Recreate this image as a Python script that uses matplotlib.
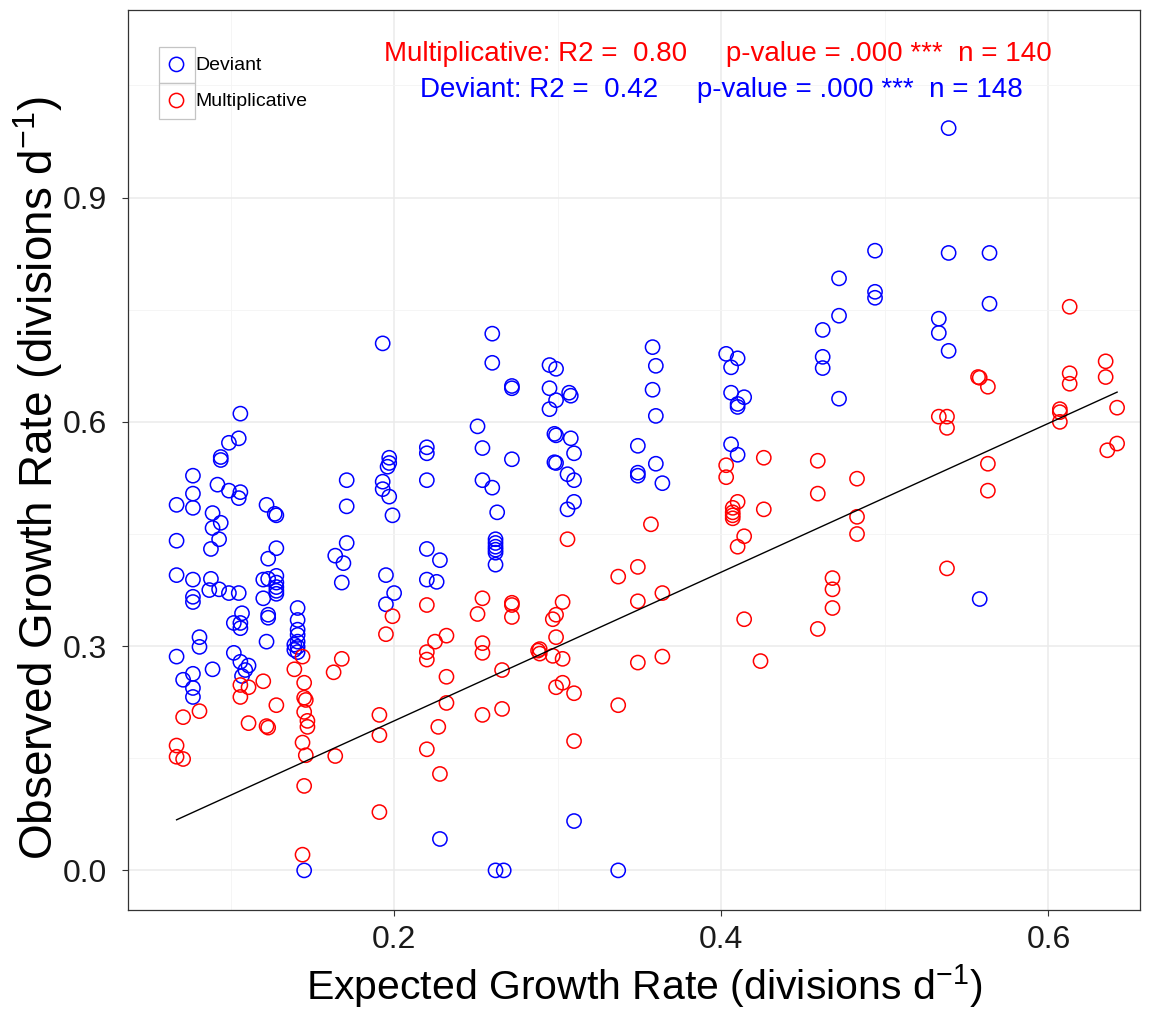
import matplotlib
matplotlib.use("Agg")
import matplotlib.pyplot as plt
from matplotlib.patches import Rectangle
from matplotlib.ticker import FixedLocator
import numpy as np

plt.rcParams["font.family"] = ["Liberation Sans", "DejaVu Sans"]
plt.rcParams["mathtext.fontset"] = "custom"
plt.rcParams["mathtext.rm"] = "Liberation Sans"
plt.rcParams["mathtext.it"] = "Liberation Sans:italic"

# (expected, observed) growth rates, divisions per day
DEVIANT = [
    (0.106, 0.611), (0.105, 0.578), (0.099, 0.572), (0.094, 0.553), (0.094, 0.549),
    (0.077, 0.528), (0.092, 0.516), (0.099, 0.508), (0.106, 0.506), (0.105, 0.498),
    (0.077, 0.504), (0.067, 0.489), (0.077, 0.485), (0.122, 0.489), (0.128, 0.475),
    (0.127, 0.477), (0.089, 0.478), (0.094, 0.465), (0.089, 0.458), (0.093, 0.443),
    (0.088, 0.430), (0.067, 0.441), (0.128, 0.431), (0.123, 0.417), (0.067, 0.395),
    (0.077, 0.389), (0.088, 0.390), (0.087, 0.375), (0.093, 0.376), (0.099, 0.371),
    (0.105, 0.371), (0.077, 0.366), (0.077, 0.359), (0.120, 0.389), (0.123, 0.390),
    (0.128, 0.394), (0.128, 0.385), (0.128, 0.379), (0.128, 0.374), (0.128, 0.370),
    (0.120, 0.364), (0.107, 0.344), (0.102, 0.331), (0.106, 0.331), (0.106, 0.324),
    (0.123, 0.342), (0.123, 0.338), (0.141, 0.351), (0.141, 0.335), (0.141, 0.322),
    (0.141, 0.315), (0.141, 0.306), (0.139, 0.302), (0.141, 0.299), (0.139, 0.295),
    (0.141, 0.292), (0.081, 0.312), (0.081, 0.299), (0.067, 0.286), (0.122, 0.306),
    (0.102, 0.291), (0.106, 0.279), (0.111, 0.274), (0.109, 0.268), (0.089, 0.269),
    (0.077, 0.263), (0.071, 0.255), (0.077, 0.244), (0.077, 0.232), (0.107, 0.260),
    (0.145, 0.000),
    (0.168, 0.385), (0.200, 0.371), (0.195, 0.356), (0.228, 0.042), (0.193, 0.705),
    (0.220, 0.566), (0.220, 0.558), (0.220, 0.522), (0.197, 0.552), (0.197, 0.545),
    (0.196, 0.540), (0.193, 0.520), (0.193, 0.510), (0.197, 0.500), (0.199, 0.475),
    (0.171, 0.522), (0.171, 0.487), (0.171, 0.438), (0.164, 0.421), (0.169, 0.411),
    (0.195, 0.395), (0.220, 0.430), (0.220, 0.389), (0.228, 0.415), (0.226, 0.386),
    (0.260, 0.718), (0.260, 0.679), (0.272, 0.648), (0.272, 0.645), (0.295, 0.676),
    (0.299, 0.671), (0.295, 0.645), (0.307, 0.639), (0.308, 0.635), (0.299, 0.629),
    (0.295, 0.617), (0.251, 0.594), (0.298, 0.584), (0.299, 0.582), (0.308, 0.578),
    (0.254, 0.565), (0.310, 0.558), (0.272, 0.550), (0.298, 0.546), (0.299, 0.545),
    (0.306, 0.530), (0.310, 0.522), (0.254, 0.522), (0.260, 0.512), (0.310, 0.493),
    (0.306, 0.483), (0.263, 0.479), (0.262, 0.443), (0.262, 0.438), (0.262, 0.433),
    (0.262, 0.429), (0.262, 0.425), (0.262, 0.409), (0.349, 0.568), (0.349, 0.532),
    (0.349, 0.528), (0.310, 0.066), (0.262, 0.000), (0.267, 0.000), (0.337, 0.000),
    (0.358, 0.700), (0.360, 0.675), (0.358, 0.643), (0.360, 0.608), (0.360, 0.544),
    (0.364, 0.518), (0.403, 0.691), (0.410, 0.685), (0.406, 0.673), (0.406, 0.639),
    (0.414, 0.633), (0.410, 0.624), (0.410, 0.620), (0.406, 0.570), (0.410, 0.556),
    (0.462, 0.723), (0.462, 0.687), (0.462, 0.672), (0.472, 0.631), (0.472, 0.792),
    (0.472, 0.742), (0.539, 0.993), (0.494, 0.829), (0.539, 0.826), (0.564, 0.826),
    (0.494, 0.774), (0.494, 0.766), (0.564, 0.758), (0.533, 0.738), (0.533, 0.719),
    (0.539, 0.695), (0.558, 0.363),
]

MULTIPLICATIVE = [
    (0.144, 0.286), (0.139, 0.269), (0.120, 0.253), (0.106, 0.248), (0.111, 0.245),
    (0.106, 0.232), (0.145, 0.251), (0.145, 0.231), (0.146, 0.228), (0.145, 0.212),
    (0.147, 0.200), (0.147, 0.192), (0.144, 0.171), (0.146, 0.154), (0.145, 0.113),
    (0.144, 0.021), (0.128, 0.221), (0.081, 0.213), (0.071, 0.205), (0.111, 0.197),
    (0.122, 0.193), (0.123, 0.191), (0.067, 0.167), (0.067, 0.152), (0.071, 0.149),
    (0.168, 0.283), (0.163, 0.265), (0.164, 0.153), (0.220, 0.355), (0.199, 0.340),
    (0.195, 0.316), (0.225, 0.306), (0.220, 0.292), (0.220, 0.282), (0.232, 0.314),
    (0.232, 0.259), (0.232, 0.224), (0.191, 0.208), (0.191, 0.181), (0.191, 0.078),
    (0.227, 0.192), (0.220, 0.162), (0.228, 0.129),
    (0.306, 0.443), (0.337, 0.393), (0.349, 0.406), (0.349, 0.360), (0.254, 0.364),
    (0.251, 0.343), (0.272, 0.358), (0.272, 0.355), (0.272, 0.339), (0.303, 0.359),
    (0.297, 0.336), (0.299, 0.342), (0.299, 0.312), (0.254, 0.304), (0.254, 0.291),
    (0.289, 0.296), (0.289, 0.290), (0.288, 0.294), (0.297, 0.287), (0.303, 0.283),
    (0.266, 0.268), (0.299, 0.245), (0.303, 0.251), (0.310, 0.237), (0.349, 0.278),
    (0.337, 0.221), (0.254, 0.208), (0.266, 0.216), (0.310, 0.173),
    (0.357, 0.463), (0.403, 0.542), (0.403, 0.526), (0.410, 0.493), (0.407, 0.485),
    (0.407, 0.479), (0.407, 0.475), (0.407, 0.471), (0.414, 0.447), (0.410, 0.433),
    (0.426, 0.552), (0.426, 0.483), (0.364, 0.371), (0.414, 0.336), (0.364, 0.286),
    (0.424, 0.280), (0.459, 0.548), (0.459, 0.504), (0.483, 0.524), (0.483, 0.473),
    (0.483, 0.450), (0.468, 0.391), (0.468, 0.376), (0.468, 0.351), (0.459, 0.323),
    (0.613, 0.754), (0.558, 0.659), (0.563, 0.647), (0.557, 0.660), (0.613, 0.665),
    (0.613, 0.651), (0.635, 0.681), (0.635, 0.660), (0.607, 0.617), (0.533, 0.607),
    (0.538, 0.607), (0.538, 0.592), (0.563, 0.544), (0.563, 0.508), (0.607, 0.613),
    (0.607, 0.600), (0.642, 0.619), (0.642, 0.571), (0.636, 0.562), (0.538, 0.404),
]

# linear fit of observed on expected for the multiplicative group
FIT_INTERCEPT = 0.001
FIT_SLOPE = 0.995

SERIES_NAMES = ["Deviant", "Multiplicative"]
SERIES_COLORS = ["#0000FF", "#FF0000"]
STATS_TEXT = [
    "Multiplicative: R2 =  0.80     p-value = .000 ***  n = 140",
    "Deviant: R2 =  0.42     p-value = .000 ***  n = 148",
]
X_TICKS = [0.2, 0.4, 0.6]
Y_TICKS = [0.0, 0.3, 0.6, 0.9]

W, H, DPI = 1157, 1017, 100
fig = plt.figure(figsize=(W / DPI, H / DPI), dpi=DPI)
ax = fig.add_axes([128 / W, 1 - 910 / H, (1140 - 128) / W, 900 / H])

ax.set_xlim(0.0373, 0.656)
ax.set_ylim(-0.053, 1.151)

ax.xaxis.set_major_locator(FixedLocator(X_TICKS))
ax.yaxis.set_major_locator(FixedLocator(Y_TICKS))
ax.xaxis.set_minor_locator(FixedLocator([0.1, 0.3, 0.5]))
ax.yaxis.set_minor_locator(FixedLocator([0.15, 0.45, 0.75, 1.05]))
ax.set_xticklabels([f"{v:.1f}" for v in X_TICKS])
ax.set_yticklabels([f"{v:.1f}" for v in Y_TICKS])

ax.grid(which="major", color="#EBEBEB", linewidth=1.1)
ax.grid(which="minor", color="#F4F4F4", linewidth=0.6)
ax.set_axisbelow(True)
ax.tick_params(which="minor", length=0)
ax.tick_params(which="major", length=4, width=0.8, color="#333333",
               labelsize=23, labelcolor="#1A1A1A")
ax.tick_params(axis="x", pad=7)
ax.tick_params(axis="y", pad=11)
for sp in ax.spines.values():
    sp.set_color("#333333")
    sp.set_linewidth(0.9)

handles = []
for name, color, pts in zip(SERIES_NAMES, SERIES_COLORS, [DEVIANT, MULTIPLICATIVE]):
    xs = [p[0] for p in pts]
    ys = [p[1] for p in pts]
    h = ax.scatter(xs, ys, s=105, facecolors="none", edgecolors=color,
                   linewidths=1.1, label=name, zorder=3)
    handles.append(h)

mx = np.array([p[0] for p in MULTIPLICATIVE])
line_x = np.array([mx.min(), mx.max()])
ax.plot(line_x, FIT_INTERCEPT + FIT_SLOPE * line_x, color="black", linewidth=1.0, zorder=4)

ax.text(0.583, 0.951, STATS_TEXT[0], transform=ax.transAxes, ha="center", va="center",
        fontsize=20, color=SERIES_COLORS[1])
ax.text(0.586, 0.911, STATS_TEXT[1], transform=ax.transAxes, ha="center", va="center",
        fontsize=20, color=SERIES_COLORS[0])

ax.set_xlabel(r"Expected Growth Rate (divisions d$^{-1}$)", fontsize=29.5)
ax.xaxis.set_label_coords(0.51, -0.058)
ax.xaxis.label.set_va("top")
ax.set_ylabel(r"Observed Growth Rate (divisions d$^{-1}$)", fontsize=33)
ax.yaxis.set_label_coords(-0.062, 0.48)

LEG_FS = 14
HANDLE_LEN = 1.7
TEXT_PAD = 0.1
leg = ax.legend(handles=handles, loc="upper left", bbox_to_anchor=(0.0316, 0.949),
                frameon=False, fontsize=LEG_FS, handletextpad=TEXT_PAD, labelspacing=0.95,
                borderaxespad=0, handlelength=HANDLE_LEN, borderpad=0.0)
leg.set_zorder(6)

# grey key boxes around each legend marker, placed from the label positions
fig.canvas.draw()
renderer = fig.canvas.get_renderer()
px_per_pt = DPI / 72.0
for txt in leg.get_texts():
    tb = txt.get_window_extent(renderer)
    cx = tb.x0 - (TEXT_PAD + HANDLE_LEN / 2) * LEG_FS * px_per_pt
    cy = (tb.y0 + tb.y1) / 2
    kw, kh = 36, 36
    fig.add_artist(Rectangle(((cx - kw / 2) / W, (cy - kh / 2) / H), kw / W, kh / H,
                             transform=fig.transFigure, facecolor="none",
                             edgecolor="#C4C4C4", linewidth=0.9, zorder=10))

fig.savefig("out.png", dpi=DPI)
